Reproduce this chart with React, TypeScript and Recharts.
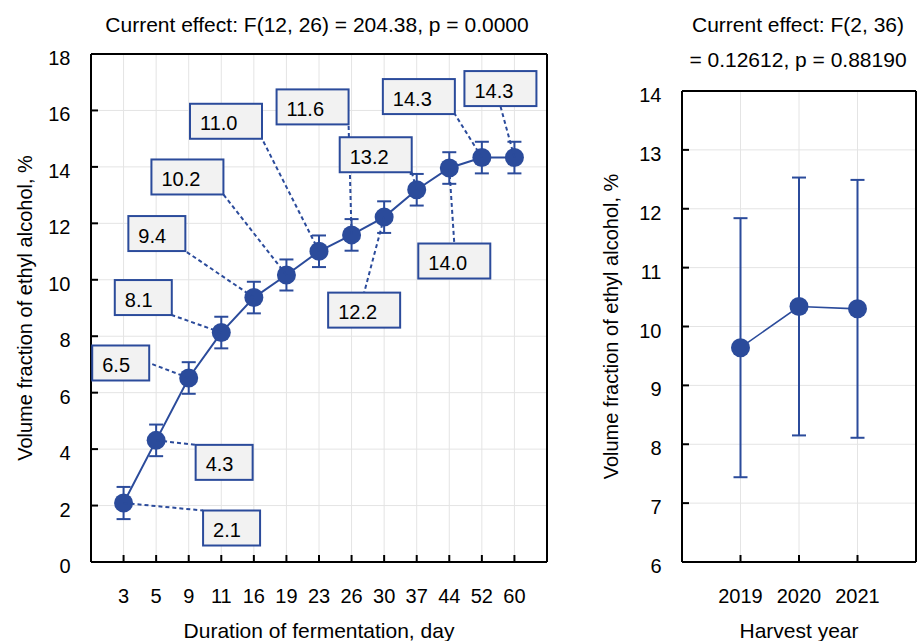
import React from 'react';
import { LineChart, Line, XAxis, YAxis, CartesianGrid, ErrorBar, LabelList } from 'recharts';

const BLUE = '#2b4b9b';
const INK = '#000';
const FRAME = { stroke: '#000', strokeWidth: 2 };

// fermentation panel
const days = ['3', '5', '9', '11', '16', '19', '23', '26', '30', '37', '44', '52', '60'];
const dayMeans = [2.09, 4.31, 6.52, 8.13, 9.37, 10.17, 11.01, 11.59, 12.22, 13.19, 13.96, 14.33, 14.33];
const dayErrors = [0.57, 0.56, 0.56, 0.56, 0.56, 0.55, 0.56, 0.56, 0.56, 0.56, 0.56, 0.56, 0.56];
const dayTicksY = [0, 2, 4, 6, 8, 10, 12, 14, 16, 18];

// harvest year panel
const years = ['2019', '2020', '2021'];
const yearMeans = [9.64, 10.34, 10.3];
const yearErrors = [2.2, 2.19, 2.19];
const yearTicksY = [6, 7, 8, 9, 10, 11, 12, 13, 14];

// where each value box sits, px from its point (centre of box)
const boxOffsets: [number, number][] = [
  [108, 25], [68, 22], [-68, -15], [-78, -35], [-97, -64], [-99, -98], [-93, -130],
  [-39, -128], [-20, 93], [-41, -35], [5, 93], [-63, -61], [-14, -69],
];

const dayData = days.map((d, i) => ({ pos: i + 1, day: d, mean: dayMeans[i], err: dayErrors[i] }));
const yearData = years.map((y, i) => ({ pos: i + 1, year: y, mean: yearMeans[i], err: yearErrors[i] }));

function YTick(props: any) {
  const { x, y, payload } = props;
  return (
    <text x={x} y={y + 11} textAnchor="end" fontSize={20} fill={INK}>
      {payload.value}
    </text>
  );
}

function ValueBox(props: any) {
  const index = props.index;
  const x = props.x ?? props.viewBox?.x;
  const y = props.y ?? props.viewBox?.y;
  if (index == null || x == null) return null;
  const [dx, dy] = boxOffsets[index];
  const text = dayMeans[index].toFixed(1);
  const w = text.length > 3 ? 72 : 57;
  const h = 35;
  const left = x + dx - w / 2;
  const top = y + dy - h / 2;
  const inX = x >= left && x <= left + w;
  const inY = y >= top && y <= top + h;
  let ax = x < left ? left : left + w;
  let ay = y < top ? top : top + h;
  if (inX) ax = left + w / 2;
  else if (inY) ay = top + h / 2;
  return (
    <g>
      <line x1={x} y1={y} x2={ax} y2={ay} stroke={BLUE} strokeWidth={2} strokeDasharray="4 3" />
      <rect x={left} y={top} width={w} height={h} fill="#f2f2f2" stroke={BLUE} strokeWidth={2} />
      <text x={left + 10} y={top + h / 2 + 9} fontSize={20} fill={INK}>
        {text}
      </text>
    </g>
  );
}

const titleStyle: React.CSSProperties = {
  position: 'absolute',
  top: 7,
  fontSize: 21,
  lineHeight: '35px',
  textAlign: 'center',
  color: INK,
};

export default function App() {
  const dayTicksX = days.map((_, i) => i + 1);
  const yearTicksX = years.map((_, i) => i + 1);
  return (
    <div
      style={{
        position: 'absolute',
        left: 0,
        top: 0,
        width: 917,
        height: 641,
        overflow: 'hidden',
        background: '#fff',
        fontFamily: '"Liberation Sans", Arial, sans-serif',
      }}
    >
      <div style={{ ...titleStyle, left: 0, width: 634 }}>
        Current effect: F(12, 26) = 204.38, p = 0.0000
      </div>
      <div style={{ ...titleStyle, left: 648, width: 300 }}>
        Current effect: F(2, 36)
        <br />= 0.12612, p = 0.88190
      </div>

      <div style={{ position: 'absolute', left: 0, top: 0 }}>
        <LineChart width={560} height={641} data={dayData} margin={{ top: 53, right: 12, bottom: 0, left: 0 }}>
          <CartesianGrid stroke="#e4e4e4" />
          <XAxis
            dataKey="pos"
            type="number"
            domain={[0, 14]}
            ticks={dayTicksX}
            interval={0}
            tickFormatter={(v: number) => days[v - 1]}
            height={79}
            tickSize={-7}
            tickMargin={34}
            axisLine={FRAME}
            tickLine={FRAME}
            tick={{ fill: INK, fontSize: 20 }}
            label={{ value: 'Duration of fermentation, day', position: 'insideBottom', offset: 3, fontSize: 21, fill: INK }}
          />
          <XAxis xAxisId="top" orientation="top" type="number" domain={[0, 14]} ticks={dayTicksX} interval={0}
            height={1} tick={false} tickSize={-7} axisLine={FRAME} tickLine={FRAME} allowDataOverflow />
          <YAxis
            type="number"
            domain={[0, 18]}
            ticks={dayTicksY}
            interval={0}
            width={91}
            tickSize={-7}
            tickMargin={27.5}
            axisLine={FRAME}
            tickLine={FRAME}
            tick={<YTick />}
            label={{ value: 'Volume fraction of ethyl alcohol, %', angle: -90, position: 'insideLeft', offset: 25, fontSize: 20, fill: INK, style: { textAnchor: 'middle' } }}
          />
          <YAxis yAxisId="right" orientation="right" type="number" domain={[0, 18]} ticks={dayTicksY} interval={0}
            width={1} tick={false} tickSize={-7} axisLine={FRAME} tickLine={FRAME} allowDataOverflow />
          <Line
            dataKey="mean"
            type="linear"
            stroke={BLUE}
            strokeWidth={2}
            dot={{ r: 9.5, fill: BLUE, stroke: BLUE, strokeWidth: 0 }}
            activeDot={false}
            isAnimationActive={false}
          >
            <ErrorBar dataKey="err" direction="y" width={7} strokeWidth={2} stroke={BLUE} />
            <LabelList dataKey="mean" content={<ValueBox />} />
          </Line>
        </LineChart>
      </div>

      <div style={{ position: 'absolute', left: 560, top: 0 }}>
        <LineChart width={360} height={641} data={yearData} margin={{ top: 90, right: 3, bottom: 0, left: 0 }}>
          <CartesianGrid stroke="#e4e4e4" />
          <XAxis
            dataKey="pos"
            type="number"
            domain={[0, 4]}
            ticks={yearTicksX}
            interval={0}
            tickFormatter={(v: number) => years[v - 1]}
            height={79}
            tickSize={-7}
            tickMargin={34}
            axisLine={FRAME}
            tickLine={FRAME}
            tick={{ fill: INK, fontSize: 20 }}
            label={{ value: 'Harvest year', position: 'insideBottom', offset: 3, fontSize: 21, fill: INK }}
          />
          <XAxis xAxisId="top" orientation="top" type="number" domain={[0, 4]} ticks={yearTicksX} interval={0}
            height={1} tick={false} tickSize={-7} axisLine={FRAME} tickLine={FRAME} allowDataOverflow />
          <YAxis
            type="number"
            domain={[6, 14]}
            ticks={yearTicksY}
            interval={0}
            width={122}
            tickSize={-7}
            tickMargin={27.5}
            axisLine={FRAME}
            tickLine={FRAME}
            tick={<YTick />}
            label={{ value: 'Volume fraction of ethyl alcohol, %', angle: -90, position: 'insideLeft', offset: 51, fontSize: 20, fill: INK, style: { textAnchor: 'middle' } }}
          />
          <YAxis yAxisId="right" orientation="right" type="number" domain={[6, 14]} ticks={yearTicksY} interval={0}
            width={1} tick={false} tickSize={-7} axisLine={FRAME} tickLine={FRAME} allowDataOverflow />
          <Line
            dataKey="mean"
            type="linear"
            stroke={BLUE}
            strokeWidth={1.6}
            dot={{ r: 9.5, fill: BLUE, stroke: BLUE, strokeWidth: 0 }}
            activeDot={false}
            isAnimationActive={false}
          >
            <ErrorBar dataKey="err" direction="y" width={7} strokeWidth={2} stroke={BLUE} />
          </Line>
        </LineChart>
      </div>
    </div>
  );
}
